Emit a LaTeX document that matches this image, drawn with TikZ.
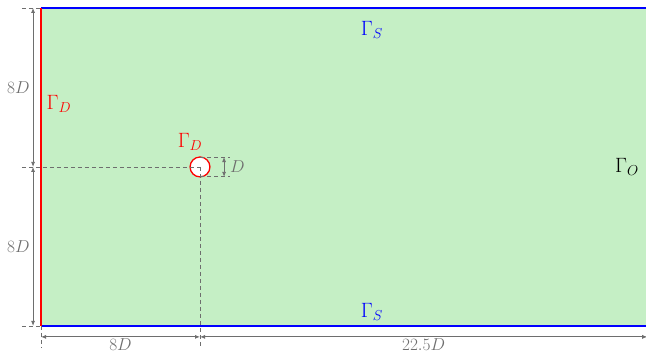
\documentclass[tikz,border=0pt]{standalone}
\usetikzlibrary{arrows.meta}
\definecolor{domgreen}{RGB}{197,239,197}
\definecolor{dimgray}{RGB}{110,110,110}
\tikzset{
  dimline/.style={draw=dimgray, line width=0.8pt, {Latex[length=5pt,width=4pt]}-{Latex[length=5pt,width=4pt]}},
  extline/.style={draw=dimgray, line width=0.8pt, dash pattern=on 4pt off 3pt},
  dimlabel/.style={text=dimgray, font=\fontsize{18.5}{22}\selectfont, inner sep=1pt},
  gammalabel/.style={font=\fontsize{22}{26}\selectfont, inner sep=1pt},
  bnd/.style={line width=1.8pt}
}
\begin{document}
\begin{tikzpicture}[x=19.875pt,y=19.875pt]
\useasboundingbox (-2.063,-1.509) rectangle (30.44,16.40);
% domain
\fill[domgreen] (0,0) rectangle (30.5,16);
\coordinate (BL) at (0,0);
\coordinate (TL) at (0,16);
\coordinate (BR) at (30.5,0);
\coordinate (TR) at (30.5,16);
\draw[bnd, blue] (TL) -- (TR);
\draw[bnd, blue] (BL) -- (BR);
\draw[bnd, red] (BL) -- (TL);
% cylinder
\node[circle, draw=red, fill=white, line width=1.3pt, minimum size=19.875pt, inner sep=0pt] (cyl) at (8,8) {};
\coordinate (C) at (8,8);
% extension lines
\coordinate (eT) at (-0.96,16);
\coordinate (eM) at (-0.96,8);
\coordinate (eB) at (-0.96,0);
\coordinate (eL) at (0,-1.06);
\coordinate (eC) at (8,-1.06);
\coordinate (eR) at (30.5,-1.06);
\draw[extline] (eT) -- (TL);
\draw[extline] (eM) -- (C);
\draw[extline] (eB) -- (BL);
\draw[extline] (BL) -- (eL);
\draw[extline] (C) -- (eC);
\draw[extline] (BR) -- (eR);
\coordinate (cT) at (8,8.5);
\coordinate (cB) at (8,7.5);
\coordinate (xT) at (9.5,8.5);
\coordinate (xB) at (9.5,7.5);
\draw[extline] (cT) -- (xT);
\draw[extline] (cB) -- (xB);
% dimension lines
\coordinate (v0) at (-0.4,0);
\coordinate (v8) at (-0.4,8);
\coordinate (v16) at (-0.4,16);
\draw[dimline] (v16) -- node[dimlabel, left=2pt] (l8a) {$8D$} (v8);
\draw[dimline] (v8) -- node[dimlabel, left=2pt] (l8b) {$8D$} (v0);
\coordinate (h0) at (0,-0.55);
\coordinate (h8) at (8,-0.55);
\coordinate (hR) at (30.5,-0.55);
\draw[dimline] (h0) -- node[dimlabel, below=0pt] (l8c) {$8D$} (h8);
\draw[dimline] (h8) -- node[dimlabel, below=0pt] (l22) {$22.5D$} (hR);
\coordinate (dT) at (9.21,8.5);
\coordinate (dB) at (9.21,7.5);
\draw[dimline] (dT) -- (dB);
\node[dimlabel, anchor=west] (lD) at (9.45,8) {$D$};
% boundary labels
\node[gammalabel, text=blue] (gs1) at (16.65,14.9) {$\Gamma_S$};
\node[gammalabel, text=blue] (gs2) at (16.65,0.70) {$\Gamma_S$};
\node[gammalabel, text=red] (gd1) at (0.9,11.17) {$\Gamma_D$};
\node[gammalabel, text=red] (gd2) at (7.5,9.26) {$\Gamma_D$};
\node[gammalabel] (go) at (29.48,8.0) {$\Gamma_O$};
\end{tikzpicture}
\end{document}
